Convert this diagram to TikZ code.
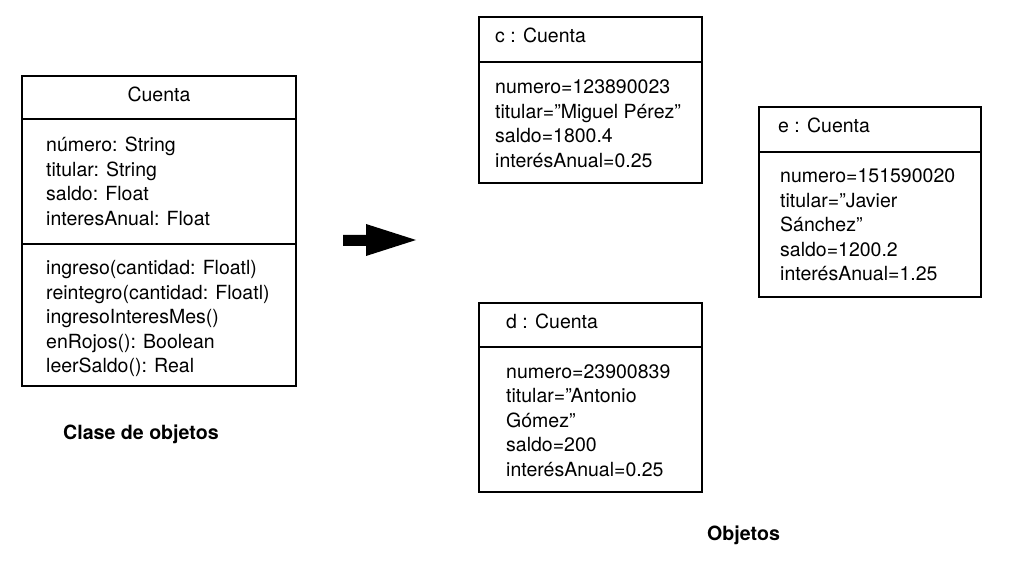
\documentclass[tikz,border=0pt]{standalone}
\usepackage{fontspec}
\setmainfont{TeX Gyre Heros}
\begin{document}
\begin{tikzpicture}[x=1pt,y=-1pt,
  box/.style={draw, line width=1.6pt},
  sep/.style={line width=1.4pt},
  txt/.style={anchor=base west, inner sep=0pt, font=\fontsize{19.5}{24}\selectfont},
  ttl/.style={inner sep=0pt, font=\fontsize{19.5}{24}\selectfont},
  captxt/.style={anchor=base west, inner sep=0pt, font=\fontsize{19.6}{22}\selectfont\bfseries}]
\useasboundingbox (0,0) rectangle (1009,561);
% class box
\draw[box] (22,76) rectangle (296,386);
\draw[sep] (22,119) -- (296,119);
\draw[sep] (22,244) -- (296,244);
\node[ttl, anchor=base] (kt) at (159,102) {Cuenta};
\node[txt] (k1) at (46,152) {número: String};
\node[txt] (k2) at (46,176.5) {titular: String};
\node[txt] (k3) at (46,201) {saldo: Float};
\node[txt] (k4) at (46,225.5) {interesAnual: Float};
\node[txt] (m1) at (46,275) {ingreso(cantidad: Floatl)};
\node[txt] (m2) at (46,299.4) {reintegro(cantidad: Floatl)};
\node[txt] (m3) at (46,323.8) {ingresoInteresMes()};
\node[txt] (m4) at (46,348.2) {enRojos(): Boolean};
\node[txt] (m5) at (46,372.6) {leerSaldo(): Real};
\node[captxt] (clase) at (63,439) {Clase de objetos};
% arrow
\fill (343,235) -- (366,235) -- (366,224) -- (416,240) -- (366,256) -- (366,246) -- (343,246) -- cycle;
% c box
\draw[box] (479,17) rectangle (702,183);
\draw[sep] (479,62) -- (702,62);
\node[ttl, anchor=base west] (ct) at (495,43) {c : Cuenta};
\node[txt] (c1) at (495,94) {numero=123890023};
\node[txt] (c2) at (495,118.4) {titular=”Miguel Pérez”};
\node[txt] (c3) at (495,142.8) {saldo=1800.4};
\node[txt] (c4) at (495,167.2) {interésAnual=0.25};
% e box
\draw[box] (759,107) rectangle (981,297);
\draw[sep] (759,152) -- (981,152);
\node[ttl, anchor=base west] (et) at (778,133) {e : Cuenta};
\node[txt] (e1) at (780,183) {numero=151590020};
\node[txt] (e2) at (780,207.5) {titular=”Javier};
\node[txt] (e3) at (780,232) {Sánchez”};
\node[txt] (e4) at (780,256.5) {saldo=1200.2};
\node[txt] (e5) at (780,281) {interésAnual=1.25};
% d box
\draw[box] (479,303) rectangle (702,492);
\draw[sep] (479,347) -- (702,347);
\node[ttl, anchor=base west] (dt) at (506,328) {d : Cuenta};
\node[txt] (d1) at (506,378) {numero=23900839};
\node[txt] (d2) at (506,402.5) {titular=”Antonio};
\node[txt] (d3) at (506,427) {Gómez”};
\node[txt] (d4) at (506,451.5) {saldo=200};
\node[txt] (d5) at (506,476) {interésAnual=0.25};
\node[captxt] (obj) at (707,540) {Objetos};
\end{tikzpicture}
\end{document}
